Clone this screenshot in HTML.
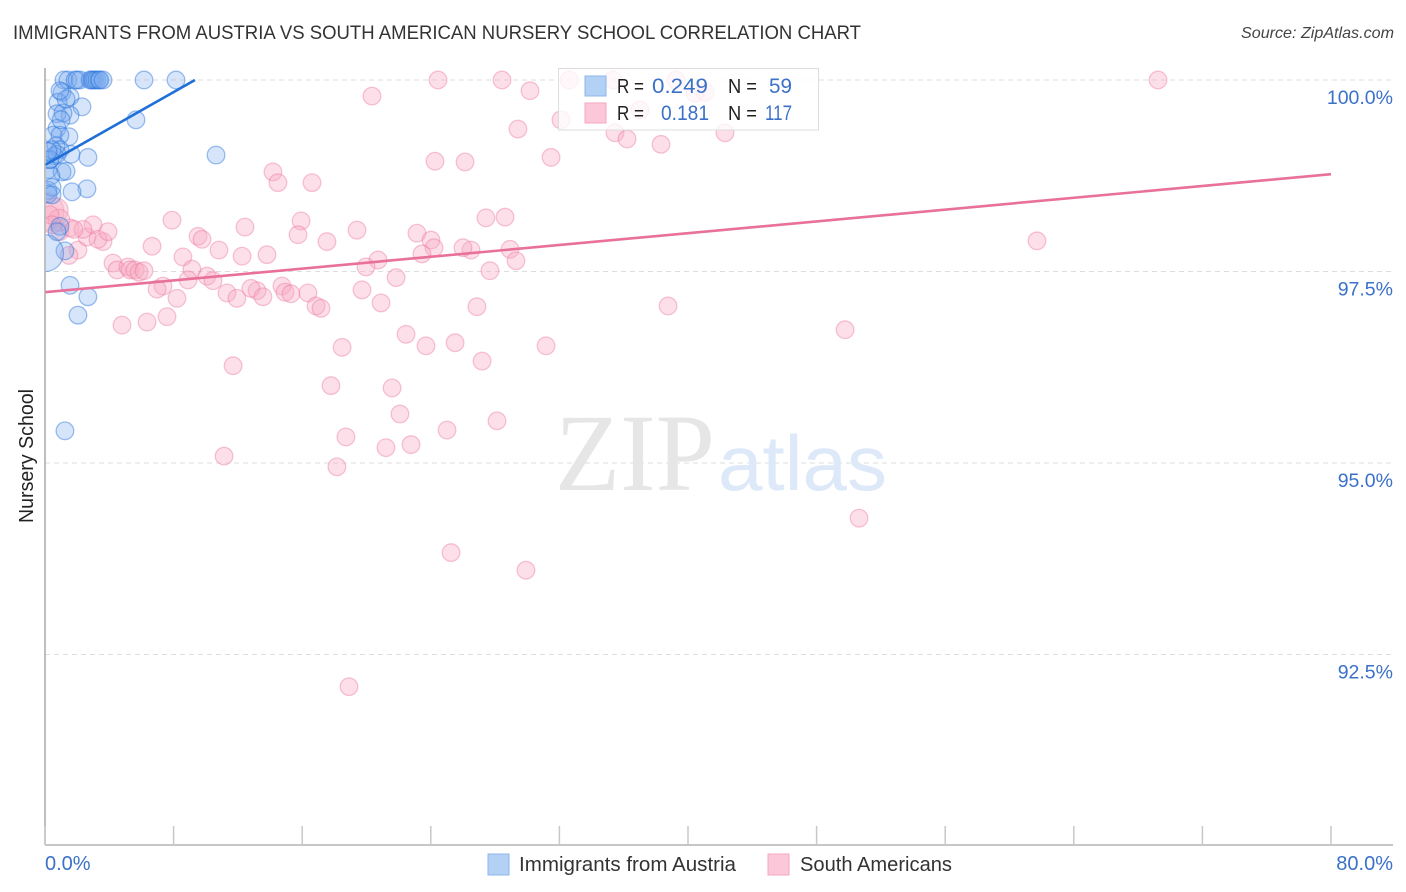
<!DOCTYPE html>
<html lang="en">
<head>
<meta charset="utf-8">
<title>Immigrants from Austria vs South American Nursery School Correlation Chart</title>
<style>
  html, body { margin: 0; padding: 0; background: #fff; }
  svg { display: block; font-family: "Liberation Sans", sans-serif; }
</style>
</head>
<body>
<svg id="chart" xmlns="http://www.w3.org/2000/svg" width="1406" height="892" viewBox="0 0 1406 892">
  <defs>
    <clipPath id="plot-clip"><rect x="46" y="60" width="1350" height="785"></rect></clipPath>
  </defs>
  <rect width="1406" height="892" fill="#fff"></rect>
  <text x="13" y="39" font-size="19.5" fill="#333" textLength="848" lengthAdjust="spacingAndGlyphs">IMMIGRANTS FROM AUSTRIA VS SOUTH AMERICAN NURSERY SCHOOL CORRELATION CHART</text>
  <text x="1394" y="38" font-size="16" font-style="italic" fill="#444" text-anchor="end" textLength="153" lengthAdjust="spacingAndGlyphs">Source: ZipAtlas.com</text>

  <g id="grid"></g>

  <text x="555" y="490" font-family="'Liberation Serif', serif" font-size="110" fill="#e6e6e6" textLength="160" lengthAdjust="spacingAndGlyphs">ZIP</text>
  <text x="718" y="490" font-size="78" fill="#dde8f8" textLength="169" lengthAdjust="spacingAndGlyphs">atlas</text>

  <g id="pink-points" clip-path="url(#plot-clip)"></g>
  <g id="blue-points" clip-path="url(#plot-clip)"></g>
  <g id="trend-lines"></g>

  <g id="axes"></g>
  <g id="y-labels"></g>

  <text transform="translate(33 456) rotate(-90)" font-size="20" fill="#222" text-anchor="middle" textLength="134" lengthAdjust="spacingAndGlyphs">Nursery School</text>

  <g>
    <rect x="558.5" y="68.5" width="260" height="61.5" fill="#fff" fill-opacity="0.78" stroke="#ddd" stroke-width="1"></rect>
    <rect x="585" y="76" width="21" height="20" fill="#b3d0f5" stroke="#8db6ee" stroke-width="1"></rect>
    <rect x="585" y="103" width="21" height="20" fill="#fcc7d8" stroke="#f3a9c1" stroke-width="1"></rect>
    <text x="617" y="93" font-size="20" fill="#222" textLength="27" lengthAdjust="spacingAndGlyphs">R =</text>
    <text x="652" y="93" font-size="21.5" fill="#3b71c9" textLength="56" lengthAdjust="spacingAndGlyphs">0.249</text>
    <text x="728" y="93" font-size="20" fill="#222" textLength="29" lengthAdjust="spacingAndGlyphs">N =</text>
    <text x="769" y="93" font-size="21.5" fill="#3b71c9" textLength="23" lengthAdjust="spacingAndGlyphs">59</text>
    <text x="617" y="120" font-size="20" fill="#222" textLength="27" lengthAdjust="spacingAndGlyphs">R =</text>
    <text x="661" y="120" font-size="21.5" fill="#3b71c9" textLength="48" lengthAdjust="spacingAndGlyphs">0.181</text>
    <text x="728" y="120" font-size="20" fill="#222" textLength="29" lengthAdjust="spacingAndGlyphs">N =</text>
    <text x="765" y="120" font-size="21.5" fill="#3b71c9" textLength="27" lengthAdjust="spacingAndGlyphs">117</text>
  </g>

  <g>
    <rect x="488" y="854" width="21" height="21" fill="#b3d0f5" stroke="#8db6ee" stroke-width="1"></rect>
    <text x="519" y="871" font-size="20" fill="#333" textLength="217" lengthAdjust="spacingAndGlyphs">Immigrants from Austria</text>
    <rect x="768" y="854" width="21" height="21" fill="#fcc7d8" stroke="#f3a9c1" stroke-width="1"></rect>
    <text x="800" y="871" font-size="20" fill="#333" textLength="152" lengthAdjust="spacingAndGlyphs">South Americans</text>
  </g>
</svg>

<script>
// ----- Chart data (x = Immigrants from Austria %, y = Nursery School %) -----
const yTickValues = [100, 97.5, 95, 92.5];
const xTickValues = [0, 8, 16, 24, 32, 40, 48, 56, 64, 72, 80];
const xEndLabels = [0, 80];

const austriaX = [1.18,1.43,1.87,2.18,1.99,2.80,2.92,2.99,3.11,3.23,3.36,3.42,3.61,6.16,8.15,
  1.06,1.56,0.81,2.30,1.56,0.75,1.12,5.66,0.75,1.49,0.50,0.93,0.68,0.93,1.62,0.56,2.67,10.64,0.31,0.19,1.06,1.31,0.37,
  0.19,0.44,2.61,1.68,0.19,0.93,1.24,0,1.56,2.67,2.05,1.24,0.75,0.31,0.75,0.44,1.00,1.31,0.93,0.19,0.44];
const austriaY = [100,100,100,100,100,100,100,100,100,100,100,100,100,100,100,
  99.84,99.78,99.71,99.65,99.54,99.56,99.57,99.48,99.37,99.26,99.28,99.28,99.14,99.09,99.03,99.01,98.99,99.02,98.96,98.83,98.80,98.81,98.75,
  98.56,98.60,98.58,98.54,98.51,98.09,97.77,97.74,97.32,97.17,96.93,95.42,98.02,98.96,99.03,99.09,99.48,99.75,99.86,99.07,98.50];

const pinkX = [24.45,28.43,32.60,69.24,35.33,39.25,20.34,30.17,41.06,40.44,37.01,32.10,29.42,35.46,36.21,42.30,38.32,31.48,24.26,26.13,
  14.18,14.49,16.61,7.90,27.43,28.62,12.44,15.93,19.41,15.74,9.52,9.77,17.54,23.14,24.01,61.71,24.20,26.50,26.00,28.93,
  23.45,29.30,6.66,10.82,8.58,12.26,13.81,20.72,19.97,27.68,21.84,9.14,10.08,8.90,10.45,7.34,6.97,8.21,11.32,11.94,
  13.19,12.81,13.56,14.74,14.93,15.30,16.36,16.86,17.17,19.72,20.90,26.87,38.76,4.79,6.35,7.59,22.46,23.70,25.51,31.17,
  49.77,18.48,27.19,11.70,17.79,21.59,22.08,28.12,25.01,18.72,21.21,22.77,11.14,18.16,50.64,25.26,29.92,18.91,
  0,0.68,0.87,0.31,0.44,0.93,1.56,2.05,1.49,2.61,2.99,3.61,3.30,3.92,2.36,1.80,4.23,4.48,5.16,5.29,5.60,5.85,6.16];
const pinkY = [100,100,100,100,100,100,99.79,99.86,99.84,99.83,99.61,99.48,99.36,99.31,99.23,99.31,99.16,98.99,98.94,98.93,
  98.80,98.66,98.66,98.17,98.20,98.21,98.08,98.16,98.04,97.98,97.96,97.92,97.89,98.00,97.91,97.90,97.81,97.78,97.81,97.79,
  97.73,97.64,97.83,97.78,97.69,97.70,97.72,97.65,97.56,97.51,97.42,97.53,97.44,97.39,97.38,97.31,97.27,97.15,97.22,97.15,
  97.25,97.28,97.17,97.31,97.23,97.21,97.22,97.05,97.02,97.26,97.09,97.04,97.05,96.80,96.84,96.91,96.68,96.53,96.57,96.53,
  96.74,96.51,96.33,96.27,96.01,95.98,95.64,95.55,95.43,95.34,95.20,95.24,95.09,94.95,94.28,93.83,93.60,92.08,
  98.28,98.30,98.17,98.24,98.11,98.02,98.07,97.78,97.71,97.95,98.11,97.89,97.92,98.02,98.05,98.05,97.61,97.52,97.56,97.52,97.52,97.49,97.51];

// Relative population weight of the few oversized points (index in series : weight).
const austriaWeightIndex = [45];
const austriaWeightValue = [4.4];
const pinkWeightIndex = [98, 99, 100];
const pinkWeightValue = [4.6, 1.9, 1.5];

const austriaTrendX = [0, 9.33];
const austriaTrendY = [98.89, 100];
const pinkTrendX = [0, 80];
const pinkTrendY = [97.23, 98.77];

// ----- Axis functions -----
const NS = 'http://www.w3.org/2000/svg';
function xScale(v) { return 45 + v * (1331 - 45) / 80; }
function yScale(v) { return 80 + (100 - v) * 76.6; }
function radius(weight) { return 8.8 * Math.sqrt(weight); }
function make(tag, attrs, parent) {
  const el = document.createElementNS(NS, tag);
  Object.keys(attrs).forEach(function (k) { el.setAttribute(k, attrs[k]); });
  parent.appendChild(el);
  return el;
}

const gridGroup = document.getElementById('grid');
const yLabelGroup = document.getElementById('y-labels');
yTickValues.forEach(function (t) {
  const line = make('line', { x1: 45, x2: 1393, y1: yScale(t), y2: yScale(t), stroke: '#dedede', 'stroke-width': 1, 'stroke-dasharray': '5 4' }, gridGroup);
  
  
  const label = make('text', { x: 1393, y: yScale(t) + 24, 'font-size': 19.5, fill: '#3b71c9', 'text-anchor': 'end' }, yLabelGroup);
  
  
  label.textContent = t.toFixed(1) + '%';
});

const axesGroup = document.getElementById('axes');
const yAxisLine = make('line', { x1: 45, x2: 45, y1: 68, y2: 845, stroke: '#aaa', 'stroke-width': 1.5 }, axesGroup);


const xAxisLine = make('line', { x1: 45, x2: 1393, y1: 845, y2: 845, stroke: '#b4b4b4', 'stroke-width': 1.5 }, axesGroup);


xTickValues.forEach(function (t) {
  const tick = make('line', { x1: xScale(t), x2: xScale(t), y1: 826, y2: 845, stroke: '#c8c8c8', 'stroke-width': 1.5 }, axesGroup);
  
  
});
xEndLabels.forEach(function (t, i) {
  const label = make('text', { x: i === 0 ? xScale(t) : 1393, y: 870, 'font-size': 20, fill: '#3b71c9', 'text-anchor': i === 0 ? 'start' : 'end' }, axesGroup);
  
  
  label.textContent = t.toFixed(1) + '%';
});

const pinkGroup = document.getElementById('pink-points');
pinkX.forEach(function (v, i) {
  const w = pinkWeightIndex.indexOf(i);
  const c = make('circle', { cx: xScale(v), cy: yScale(pinkY[i]), r: radius(w < 0 ? 1 : pinkWeightValue[w]), fill: 'rgba(248,170,195,0.38)', stroke: 'rgba(235,120,160,0.42)', 'stroke-width': 1.3 }, pinkGroup);
  
  
});

const blueGroup = document.getElementById('blue-points');
austriaX.forEach(function (v, i) {
  const w = austriaWeightIndex.indexOf(i);
  const c = make('circle', { cx: xScale(v), cy: yScale(austriaY[i]), r: radius(w < 0 ? 1 : austriaWeightValue[w]), fill: 'rgba(120,170,240,0.3)', stroke: 'rgba(40,115,220,0.45)', 'stroke-width': 1.3 }, blueGroup);
  
  
});

const trendGroup = document.getElementById('trend-lines');
const austriaTrend = make('line', { x1: xScale(austriaTrendX[0]), y1: yScale(austriaTrendY[0]), x2: xScale(austriaTrendX[1]), y2: yScale(austriaTrendY[1]), stroke: '#1f6fd8', 'stroke-width': 2.6 }, trendGroup);


const pinkTrend = make('line', { x1: xScale(pinkTrendX[0]), y1: yScale(pinkTrendY[0]), x2: xScale(pinkTrendX[1]), y2: yScale(pinkTrendY[1]), stroke: '#e8709b', 'stroke-width': 2.6 }, trendGroup);


</script>
</body>
</html>
